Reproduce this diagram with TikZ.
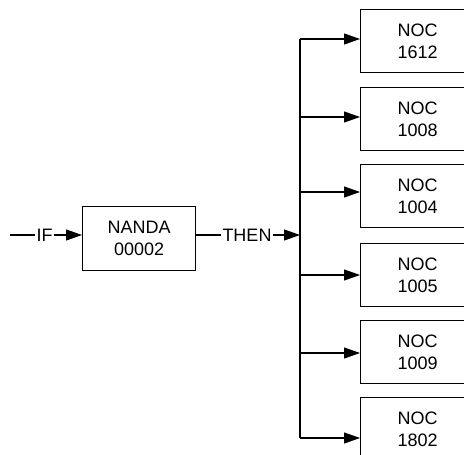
\documentclass[tikz,border=0pt]{standalone}
\usepackage{fontspec}
\setmainfont{Liberation Sans}
\usetikzlibrary{arrows.meta}
\begin{document}
\begin{tikzpicture}[x=1pt,y=-1pt,
  box/.style={draw, line width=1.1pt, minimum width=114pt, minimum height=63pt,
    align=center, font=\fontsize{18}{22}\selectfont, anchor=north west, inner sep=0pt},
  conn/.style={line width=1.1pt},
  arr/.style={conn, -{Triangle[length=16pt,width=11pt]}},
  lbl/.style={font=\fontsize{18}{22}\selectfont, inner sep=1pt}]
\useasboundingbox (0,0) rectangle (464,455);
\clip (0,0) rectangle (464,455);

% left chain
\coordinate (start) at (10,235);
\node[lbl] (if) at (44.5,235) {IF};
\node[box, minimum width=113pt, minimum height=64pt] (nanda) at (82,206) {NANDA\\00002};
\node[lbl] (then) at (247,235) {THEN};
\coordinate (busmid) at (300,235);

\draw[conn] (start) -- (if);
\draw[arr] (if) -- (if -| nanda.west);
\draw[conn] (then -| nanda.east) -- (then);
\draw[arr] (then) -- (busmid);

% target boxes
\node[box] (n1) at (360,9)   {NOC\\1612};
\node[box] (n2) at (360,87)  {NOC\\1008};
\node[box] (n3) at (360,164) {NOC\\1004};
\node[box] (n4) at (360,243) {NOC\\1005};
\node[box] (n5) at (360,320) {NOC\\1009};
\node[box] (n6) at (360,397) {NOC\\1802};

% bus
\coordinate (b1) at (300,39);
\coordinate (b2) at (300,117);
\coordinate (b3) at (300,192);
\coordinate (b4) at (300,275);
\coordinate (b5) at (300,353);
\coordinate (b6) at (300,438);
\draw[conn] (b1) -- (b6);
\foreach \i in {1,...,6}{
  \draw[arr] (b\i) -- (b\i -| n\i.west);
}
\end{tikzpicture}
\end{document}
